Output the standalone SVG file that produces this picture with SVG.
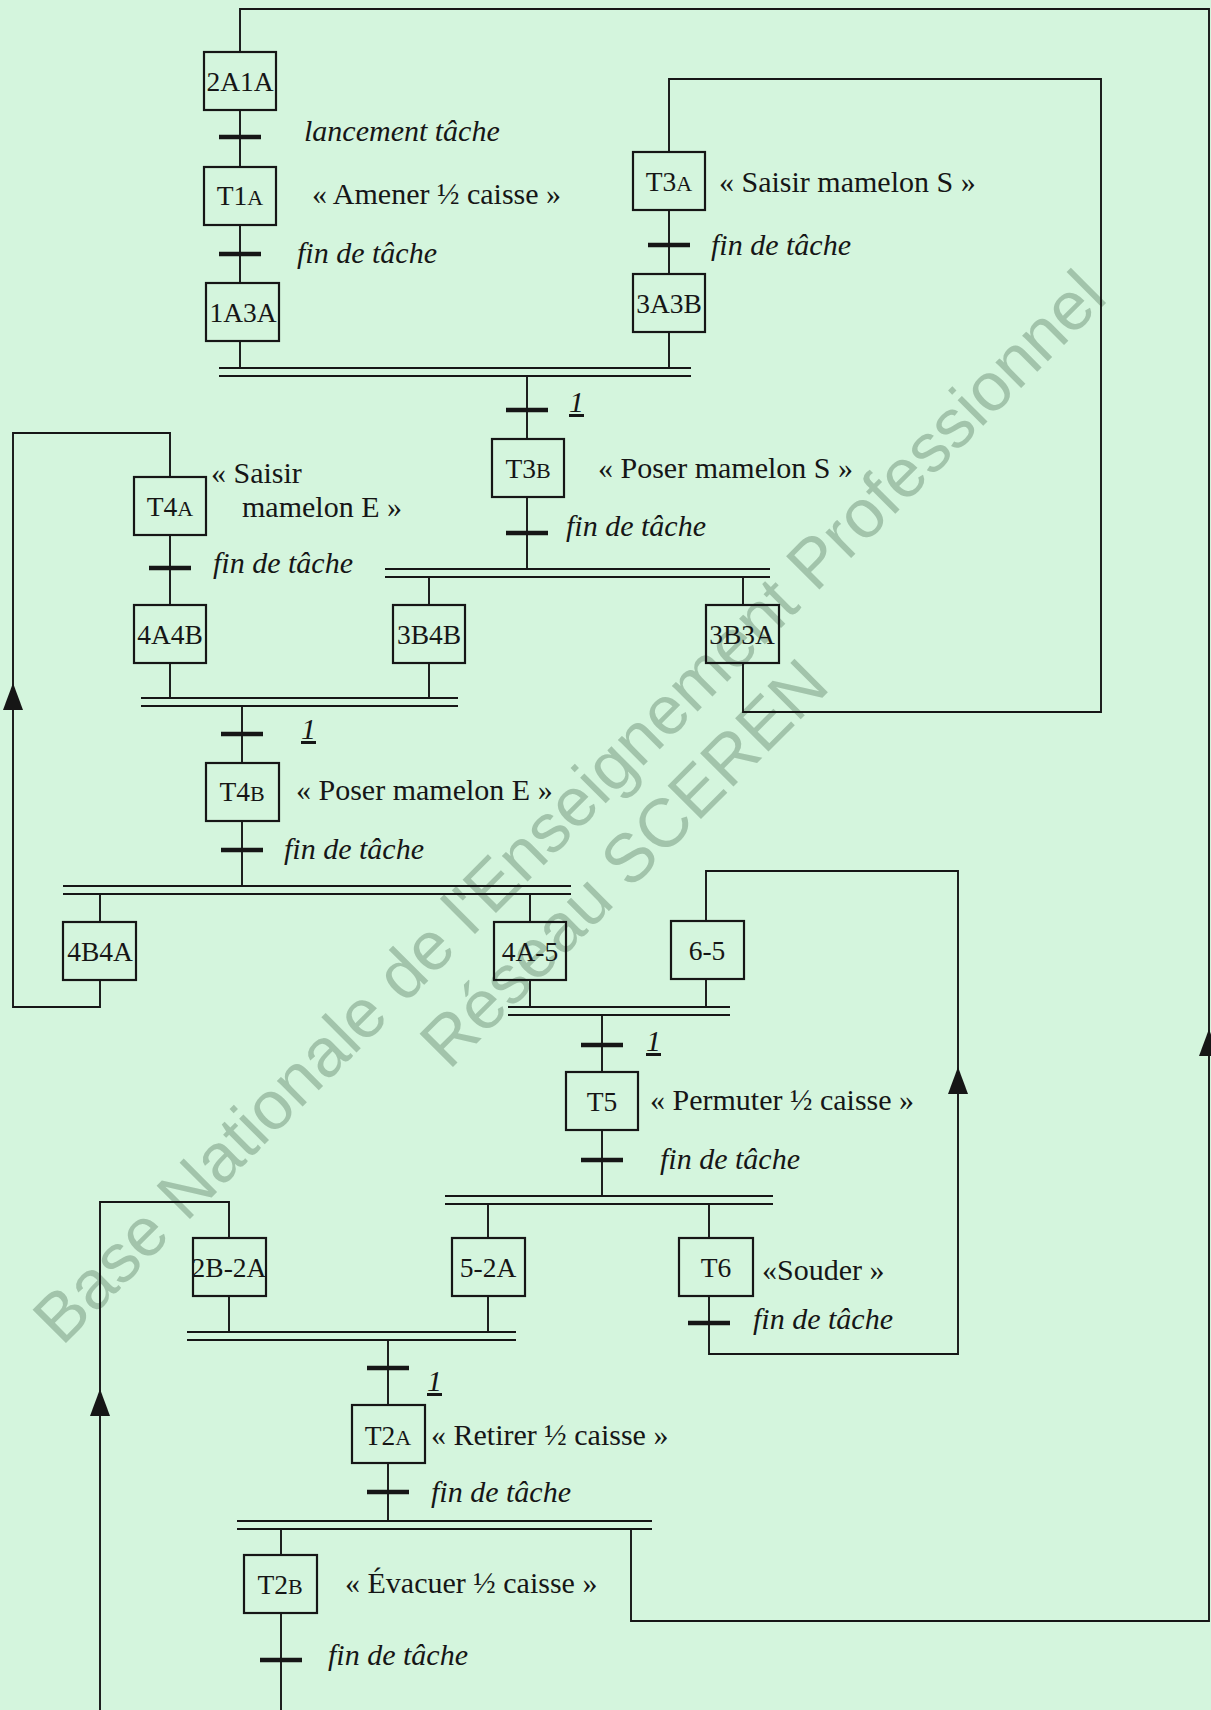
<svg xmlns="http://www.w3.org/2000/svg" xmlns:xlink="http://www.w3.org/1999/xlink" width="1211" height="1710" viewBox="0 0 1211 1710">
<style>
.ln{fill:none;stroke:#161616;stroke-width:1.9}
.box{fill:none;stroke:#161616;stroke-width:2.2}
.tr{stroke:#161616;stroke-width:4.4}
.db{stroke:#161616;stroke-width:2}
.t{font-family:"Liberation Serif","Times New Roman",serif;font-size:30px;fill:#161616}
.it{font-style:italic}
.lb{font-family:"Liberation Serif","Times New Roman",serif;font-size:27.5px;fill:#161616;text-anchor:middle}
.sc{font-size:22px}
.wm{font-family:"Liberation Sans",Arial,sans-serif;font-size:68.6px;fill:#9dbfa6}
</style>
<defs>
<path id="arrowUp" d="M0,0 L-10,27 L10,27 Z" fill="#161616"/>
<path id="trans" d="M-21,0 H21" class="tr"/>
</defs>
<rect x="0" y="0" width="1211" height="1710" fill="#d4f5dd"/>
<g id="watermark" opacity="0.9">
<text class="wm" transform="translate(62,1347) rotate(-45)">Base Nationale de l'Enseignement Professionnel</text>
<text class="wm" transform="translate(449,1071) rotate(-45)">Réseau SCEREN</text>
</g>
<g id="connectors">
<path class="ln" d="M240,52 V9 H1209 V1621 H631 V1529"/>
<path class="ln" d="M669,152 V79 H1101 V712 H743 V663"/>
<path class="ln" d="M170,477 V433 H13 V1007 H100 V980"/>
<path class="ln" d="M706,921 V871 H958 V1354 H709 V1296"/>
<path class="ln" d="M229,1238 V1202 H100 V1710"/>
<path class="ln" d="M240,110 V167 M240,225 V283 M240,341 V368 M669,210 V274 M669,332 V368 M527,376 V439 M527,497 V569 M429,577 V605 M743,577 V605 M170,535 V605 M170,663 V698 M429,663 V698 M242,706 V763 M242,821 V886 M100,894 V922 M530,894 V922 M530,980 V1007 M706,979 V1007 M602,1015 V1072 M602,1130 V1196 M488,1204 V1238 M709,1204 V1238 M229,1296 V1332 M488,1296 V1332 M388,1340 V1405 M388,1463 V1521 M281,1529 V1555 M281,1613 V1710"/>
<use xlink:href="#arrowUp" x="13" y="683"/>
<use xlink:href="#arrowUp" x="958" y="1067"/>
<use xlink:href="#arrowUp" x="1209" y="1029"/>
<use xlink:href="#arrowUp" x="100" y="1389"/>
</g>
<g id="sync-bars">
<path class="db" d="M219,368 H691 M219,376 H691"/>
<path class="db" d="M385,569 H770 M385,577 H770"/>
<path class="db" d="M141,698 H458 M141,706 H458"/>
<path class="db" d="M63,886 H571 M63,894 H571"/>
<path class="db" d="M508,1007 H730 M508,1015 H730"/>
<path class="db" d="M445,1196 H773 M445,1204 H773"/>
<path class="db" d="M187,1332 H516 M187,1340 H516"/>
<path class="db" d="M237,1521 H652 M237,1529 H652"/>
</g>
<g id="transitions">
<use xlink:href="#trans" x="240" y="137"/><text class="t it" x="304" y="141">lancement tâche</text>
<use xlink:href="#trans" x="240" y="254"/><text class="t it" x="297" y="263">fin de tâche</text>
<use xlink:href="#trans" x="669" y="245"/><text class="t it" x="711" y="255">fin de tâche</text>
<use xlink:href="#trans" x="527" y="410"/><text class="t it" x="569" y="412" text-decoration="underline">1</text>
<use xlink:href="#trans" x="527" y="533"/><text class="t it" x="566" y="536">fin de tâche</text>
<use xlink:href="#trans" x="170" y="568"/><text class="t it" x="213" y="573">fin de tâche</text>
<use xlink:href="#trans" x="242" y="734"/><text class="t it" x="301" y="739" text-decoration="underline">1</text>
<use xlink:href="#trans" x="242" y="850"/><text class="t it" x="284" y="859">fin de tâche</text>
<use xlink:href="#trans" x="602" y="1045"/><text class="t it" x="646" y="1051" text-decoration="underline">1</text>
<use xlink:href="#trans" x="602" y="1160"/><text class="t it" x="660" y="1169">fin de tâche</text>
<use xlink:href="#trans" x="709" y="1323"/><text class="t it" x="753" y="1329">fin de tâche</text>
<use xlink:href="#trans" x="388" y="1368"/><text class="t it" x="427" y="1391" text-decoration="underline">1</text>
<use xlink:href="#trans" x="388" y="1492"/><text class="t it" x="431" y="1502">fin de tâche</text>
<use xlink:href="#trans" x="281" y="1660"/><text class="t it" x="328" y="1665">fin de tâche</text>
</g>
<g id="n-2A1A"><rect class="box" x="204" y="52" width="72" height="58"/><text class="lb" x="240" y="91">2A1A</text></g>
<g id="n-T1A"><rect class="box" x="204" y="167" width="72" height="58"/><text class="lb" x="240" y="205">T1<tspan class="sc">A</tspan></text><text class="t" x="312" y="204">« Amener ½ caisse »</text></g>
<g id="n-1A3A"><rect class="box" x="206" y="283" width="73" height="58"/><text class="lb" x="243" y="322">1A3A</text></g>
<g id="n-T3A"><rect class="box" x="633" y="152" width="72" height="58"/><text class="lb" x="669" y="191">T3<tspan class="sc">A</tspan></text><text class="t" x="719" y="192">« Saisir mamelon S »</text></g>
<g id="n-3A3B"><rect class="box" x="633" y="274" width="72" height="58"/><text class="lb" x="669" y="313">3A3B</text></g>
<g id="n-T3B"><rect class="box" x="492" y="439" width="72" height="58"/><text class="lb" x="528" y="478">T3<tspan class="sc">B</tspan></text><text class="t" x="598" y="478">« Poser mamelon S »</text></g>
<g id="n-T4A"><rect class="box" x="134" y="477" width="72" height="58"/><text class="lb" x="170" y="516">T4<tspan class="sc">A</tspan></text><text class="t" x="211" y="483">« Saisir</text><text class="t" x="242" y="517">mamelon E »</text></g>
<g id="n-4A4B"><rect class="box" x="134" y="605" width="72" height="58"/><text class="lb" x="170" y="644">4A4B</text></g>
<g id="n-3B4B"><rect class="box" x="393" y="605" width="72" height="58"/><text class="lb" x="429" y="644">3B4B</text></g>
<g id="n-3B3A"><rect class="box" x="706" y="605" width="73" height="58"/><text class="lb" x="742" y="644">3B3A</text></g>
<g id="n-T4B"><rect class="box" x="206" y="763" width="73" height="58"/><text class="lb" x="242" y="801">T4<tspan class="sc">B</tspan></text><text class="t" x="296" y="800">« Poser mamelon E »</text></g>
<g id="n-4B4A"><rect class="box" x="63" y="922" width="73" height="58"/><text class="lb" x="100" y="961">4B4A</text></g>
<g id="n-4A-5"><rect class="box" x="494" y="922" width="72" height="58"/><text class="lb" x="530" y="961">4A-5</text></g>
<g id="n-6-5"><rect class="box" x="671" y="921" width="73" height="58"/><text class="lb" x="707" y="960">6-5</text></g>
<g id="n-T5"><rect class="box" x="566" y="1072" width="72" height="58"/><text class="lb" x="602" y="1111">T5</text><text class="t" x="650" y="1110">« Permuter ½ caisse »</text></g>
<g id="n-2B-2A"><rect class="box" x="193" y="1238" width="73" height="58"/><text class="lb" x="229" y="1277">2B-2A</text></g>
<g id="n-5-2A"><rect class="box" x="452" y="1238" width="73" height="58"/><text class="lb" x="488" y="1277">5-2A</text></g>
<g id="n-T6"><rect class="box" x="679" y="1238" width="74" height="58"/><text class="lb" x="716" y="1277">T6</text><text class="t" x="762" y="1280">«Souder »</text></g>
<g id="n-T2A"><rect class="box" x="352" y="1405" width="73" height="58"/><text class="lb" x="388" y="1445">T2<tspan class="sc">A</tspan></text><text class="t" x="431" y="1445">« Retirer ½ caisse »</text></g>
<g id="n-T2B"><rect class="box" x="244" y="1555" width="73" height="58"/><text class="lb" x="280" y="1594">T2<tspan class="sc">B</tspan></text><text class="t" x="345" y="1593">« Évacuer ½ caisse »</text></g>
</svg>
